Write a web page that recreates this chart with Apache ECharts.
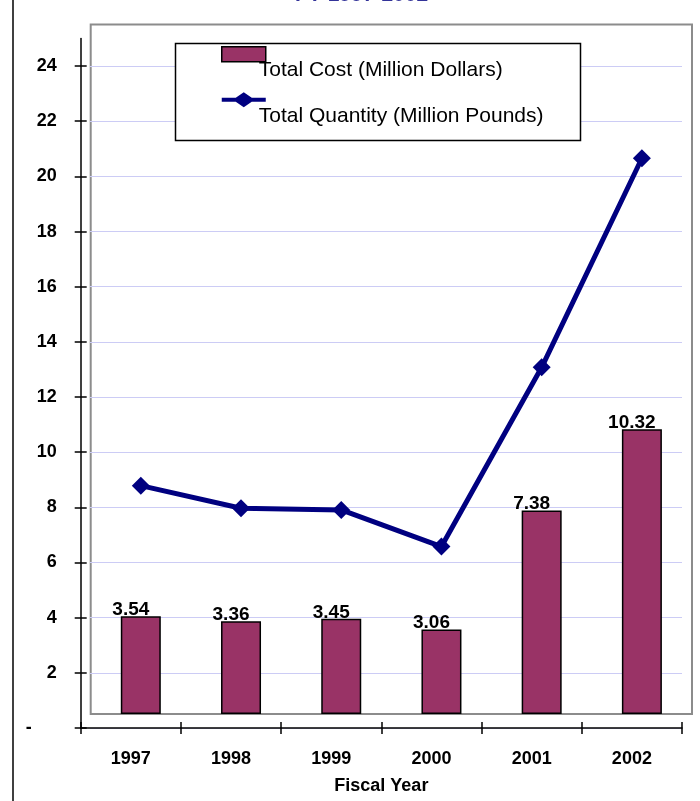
<!DOCTYPE html>
<html><head><meta charset="utf-8">
<script src="https://cdn.jsdelivr.net/npm/echarts@6/dist/echarts.min.js"></script>
<style>html,body{margin:0;padding:0;background:#fff}#c{width:700px;height:801px}</style>
</head><body><div id="c"></div>
<script>
const categories = ['1997', '1998', '1999', '2000', '2001', '2002'];
const totalCost = [3.54, 3.36, 3.45, 3.06, 7.38, 10.32];
const totalQuantity = [8.28, 7.46, 7.40, 6.07, 12.57, 20.15];
const yTicks = [0, 2, 4, 6, 8, 10, 12, 14, 16, 18, 20, 22, 24];
const titleText = 'FY 1997-2002';
const costName = 'Total Cost (Million Dollars)';
const qtyName = 'Total Quantity (Million Pounds)';
const xAxisName = 'Fiscal Year';

const FONT = '"Liberation Sans", Arial, sans-serif';
const chart = echarts.init(document.getElementById('c'), null, { renderer: 'canvas' });

const option = {
  animation: false,
  backgroundColor: '#fff',
  title: {
    text: titleText, left: 295, top: -15, padding: 0,
    textStyle: { fontFamily: FONT, fontSize: 21, fontWeight: 'bold', color: '#333399' }
  },
  graphic: [
    { type: 'line', z: 10, shape: { x1: 13, y1: 0, x2: 13, y2: 801 }, style: { stroke: '#000', lineWidth: 1.5 } },
    { type: 'rect', z: 3, shape: { x: 175.5, y: 43.5, width: 405, height: 97 }, style: { fill: '#fff', stroke: '#000', lineWidth: 1.5 } }
  ],
  legend: {
    z: 5, orient: 'vertical', left: 221, top: 21.2, padding: 0,
    itemWidth: 44, itemHeight: 15, itemGap: -20.4, selectedMode: false,
    formatter: name => '\n' + name,
    textStyle: { fontFamily: FONT, fontSize: 21, lineHeight: 33, color: '#000', padding: [0, 0, 0, -12] },
    data: [
      { name: costName, icon: 'rect', itemStyle: { color: '#993366', borderColor: '#000', borderWidth: 1.5 } },
      {
        name: qtyName,
        icon: 'path://M0,5.5 L14,5.5 L22,0 L30,5.5 L44,5.5 L44,9.5 L30,9.5 L22,15 L14,9.5 L0,9.5 Z',
        itemStyle: { color: '#000080', borderWidth: 0 }
      }
    ]
  },
  grid: [
    { left: 80.7, right: 18, top: 38.5, bottom: 73 },
    { left: 90, right: 18, top: 66.1, bottom: 73 },
    { left: 90.7, right: 8, top: 24.5, bottom: 87, show: true, borderColor: '#8c8c8c', borderWidth: 2, backgroundColor: 'transparent' }
  ],
  xAxis: [
    {
      gridIndex: 0, type: 'category', position: 'bottom', data: categories, boundaryGap: true,
      axisLine: { lineStyle: { color: '#000', width: 1.5 } },
      axisTick: { show: true, inside: false, length: 6, lineStyle: { color: '#000', width: 1.5 } },
      axisLabel: { margin: 22, fontFamily: FONT, fontSize: 18, fontWeight: 'bold', color: '#000' },
      name: xAxisName, nameLocation: 'middle', nameGap: 49,
      nameTextStyle: { fontFamily: FONT, fontSize: 18, fontWeight: 'bold', color: '#000' }
    },
    {
      gridIndex: 0, type: 'category', position: 'bottom', data: categories, boundaryGap: true,
      axisLine: { show: false },
      axisTick: { show: true, inside: true, length: 6, lineStyle: { color: '#000', width: 1.5 } },
      axisLabel: { show: false }
    },
    { gridIndex: 1, type: 'category', data: categories, show: false },
    { gridIndex: 2, type: 'category', data: categories, boundaryGap: true, show: false }
  ],
  yAxis: [
    {
      gridIndex: 0, type: 'value', position: 'left', min: 0, max: 25, interval: 2,
      axisLine: { show: true, lineStyle: { color: '#000', width: 1.5 } },
      axisTick: { show: true, inside: false, length: 6, customValues: yTicks, lineStyle: { color: '#000', width: 1.5 } },
      axisLabel: {
        margin: 24, customValues: yTicks, fontFamily: FONT, fontSize: 18, fontWeight: 'bold', color: '#000',
        formatter: v => (v === 0 ? '-     ' : String(v))
      },
      splitLine: { show: false }
    },
    {
      gridIndex: 0, type: 'value', position: 'left', min: 0, max: 25, interval: 2,
      axisLine: { show: false },
      axisTick: { show: true, inside: true, length: 6, customValues: yTicks, lineStyle: { color: '#000', width: 1.5 } },
      axisLabel: { show: false },
      splitLine: { show: false }
    },
    {
      gridIndex: 1, type: 'value', min: 0, max: 24, interval: 2,
      axisLine: { show: false }, axisTick: { show: false }, axisLabel: { show: false },
      splitLine: { show: true, lineStyle: { color: '#ccccf5', width: 1 } }
    },
    { gridIndex: 2, type: 'value', min: 0, max: 25, show: false, splitLine: { show: false } }
  ],
  series: [
    {
      name: costName, type: 'bar', xAxisIndex: 3, yAxisIndex: 3, data: totalCost, barWidth: 40,
      itemStyle: { color: '#993366', borderColor: '#000', borderWidth: 1.5 },
      label: {
        show: true, position: 'top', distance: -3, offset: [-10, 0],
        fontFamily: FONT, fontSize: 19, fontWeight: 'bold', color: '#000',
        formatter: p => p.value.toFixed(2)
      }
    },
    {
      name: qtyName, type: 'line', xAxisIndex: 3, yAxisIndex: 3, data: totalQuantity,
      symbol: 'diamond', symbolSize: 18,
      lineStyle: { color: '#000080', width: 5 },
      itemStyle: { color: '#000080' }
    }
  ]
};
chart.setOption(option);
</script>
</body></html>
